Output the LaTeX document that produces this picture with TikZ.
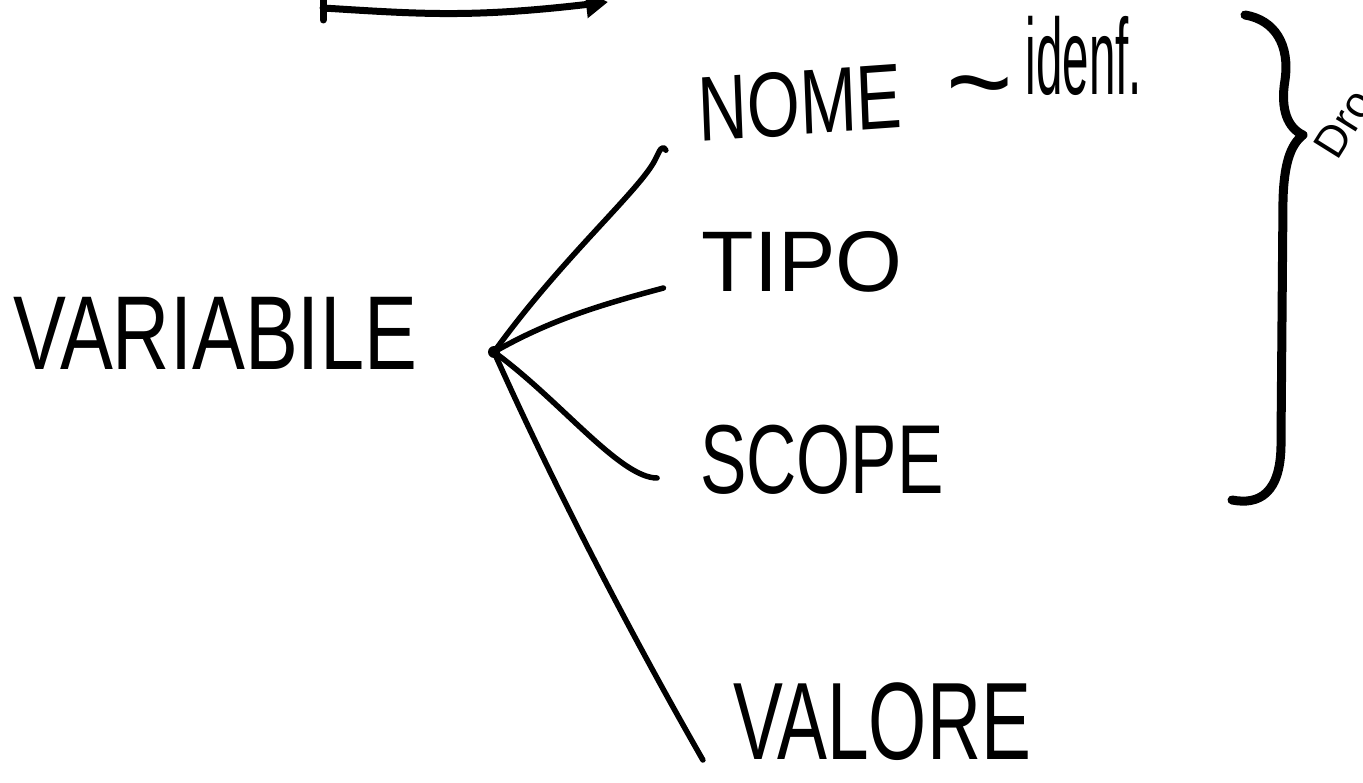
\documentclass[tikz,border=0pt]{standalone}
\usepackage{fontspec}
\setmainfont{Liberation Sans}
\usetikzlibrary{arrows.meta}
\begin{document}
\begin{tikzpicture}[x=1pt,y=-1pt,
  conn/.style={line width=5.5pt, line cap=round, line join=round},
  heavy/.style={line width=9pt, line cap=round, line join=round},
  lbl/.style={inner sep=0pt, anchor=center}]
\useasboundingbox (0,0) rectangle (1363,783);
\fill[white] (0,0) rectangle (1363,783);
% labels
\node[lbl, font=\fontsize{105}{105}\selectfont, xscale=0.755] (var) at (215,333) {VARIABILE};
\node[lbl, font=\fontsize{92}{92}\selectfont, xscale=0.74, rotate=3] (nome) at (800,103) {NOME};
\node[inner sep=0pt, anchor=base west, font=\fontsize{108}{108}\selectfont, xscale=0.44] (idf) at (946,95) {\raisebox{-28pt}{\scalebox{2.4}[1.1]{\textasciitilde}}\ idenf.};
\node[lbl, font=\fontsize{86}{86}\selectfont] (tipo) at (802,262) {TIPO};
\node[lbl, font=\fontsize{98}{98}\selectfont, xscale=0.71] (scope) at (822,460) {SCOPE};
\node[lbl, font=\fontsize{110}{110}\selectfont, xscale=0.68] (valore) at (882,722) {VALORE};
\node[inner sep=0pt, anchor=south west, font=\fontsize{44}{44}\selectfont, rotate=58] (dro) at (1338,162) {Dro};
% hub
\coordinate (hub) at (494,352);
\fill (hub) circle (6);
% connectors
\draw[conn] (hub) .. controls (560,260) and (640,190) .. (655,160) .. controls (660,150) and (662,144) .. ([shift={(-32,40)}]nome.west);
\draw[conn] (hub) .. controls (550,320) and (600,305) .. ([shift={(-38,26)}]tipo.west);
\draw[conn] (hub) .. controls (560,400) and (620,478) .. ([shift={(-43,18)}]scope.west);
\draw[conn] (hub) .. controls (560,500) and (640,650) .. ([shift={(-30,38)}]valore.west);
% brace
\coordinate (bt) at (1245,15);
\coordinate (bb) at (1232,500);
\draw[heavy] (bt) .. controls (1275,20) and (1290,45) .. (1285,80)
  .. controls (1280,110) and (1288,128) .. (1303,135)
  .. controls (1290,145) and (1284,165) .. (1283,200)
  -- (1281,440) .. controls (1282,495) and (1258,505) .. (bb);
% top arrow
\coordinate (ta) at (323,20);
\coordinate (tb) at (323,0);
\coordinate (tc) at (323,8);
\coordinate (td) at (608,2);
\draw[line width=7pt, line cap=round] (ta) -- (tb);
\draw[line width=7pt, line cap=round, -{Triangle[length=22pt,width=26pt]}] (tc) .. controls (420,14) and (470,18) .. (td);
\end{tikzpicture}
\end{document}
